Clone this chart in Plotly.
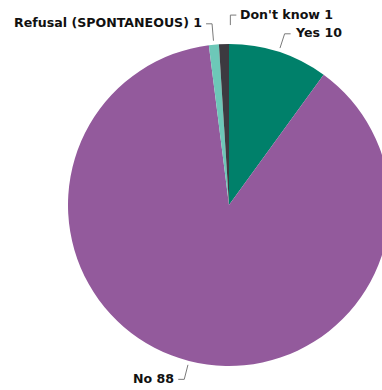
import math
import plotly.graph_objects as go

# ---- data ----
categories = ["Yes", "No", "Refusal (SPONTANEOUS)", "Don't know"]
values = [10, 88, 1, 1]
colors = ["#00806A", "#935A9C", "#6DC8B8", "#3C3A40"]

# ---- geometry (pixels) ----
W, H = 400, 390
CX, CY, R = 229, 205, 161

# per-label layout style: side of text, elbow lift, horizontal shift of the connector
label_style = {
    "Yes": dict(side=1, lift=0, shift=0, from_slice=True),
    "No": dict(side=-1, lift=0, shift=0, from_slice=True),
    "Refusal (SPONTANEOUS)": dict(side=-1, lift=-2, shift=0, from_slice=True),
    "Don't know": dict(side=1, lift=-10, shift=7, from_slice=False),
}

fig = go.Figure()
fig.add_trace(go.Pie(
    labels=categories,
    values=values,
    sort=False,
    direction="clockwise",
    rotation=0,
    textinfo="none",
    hoverinfo="label+value",
    marker=dict(colors=colors, line=dict(width=0)),
    showlegend=False,
    domain=dict(x=[(CX - R) / W, (CX + R) / W],
                y=[(H - CY - R) / H, (H - CY + R) / H]),
))


def px(x, y):
    return x / W, 1 - y / H


total = sum(values)
cum = 0.0
shapes = []
annotations = []
for cat, v in zip(categories, values):
    mid = (cum + v / 2) / total * 360.0
    cum += v
    s, c = math.sin(math.radians(mid)), math.cos(math.radians(mid))
    st = label_style[cat]
    ex, ey = CX + (R + 19) * s, CY - (R + 19) * c
    if st["from_slice"]:
        sx, sy = CX + (R + 4) * s, CY - (R + 4) * c
        bx, by = ex, ey + st["lift"]
    else:
        sx, sy = ex + st["shift"], ey
        bx, by = sx, ey + st["lift"]
    hx = bx + st["side"] * 6
    p0, p1, p2 = px(sx, sy), px(bx, by), px(hx, by)
    shapes.append(dict(
        type="path", xref="paper", yref="paper",
        path=f"M {p0[0]},{p0[1]} L {p1[0]},{p1[1]} L {p2[0]},{p2[1]}",
        line=dict(color="#7a7a7a", width=1),
    ))
    tx, ty = px(hx + st["side"] * 2, by - 1)
    annotations.append(dict(
        x=tx, y=ty, xref="paper", yref="paper",
        text=f"{cat} {v}", showarrow=False,
        xanchor="left" if st["side"] > 0 else "right", yanchor="middle",
        font=dict(family="DejaVu Sans", size=12.6, color="#111111", weight="bold"),
    ))

fig.update_layout(
    width=W, height=H,
    margin=dict(l=0, r=0, t=0, b=0),
    paper_bgcolor="white", plot_bgcolor="white",
    shapes=shapes, annotations=annotations,
)

fig.write_html(
    "out.html",
    post_script="document.documentElement.style.overflow='hidden';document.body.style.overflow='hidden';document.body.style.margin='0';",
)
